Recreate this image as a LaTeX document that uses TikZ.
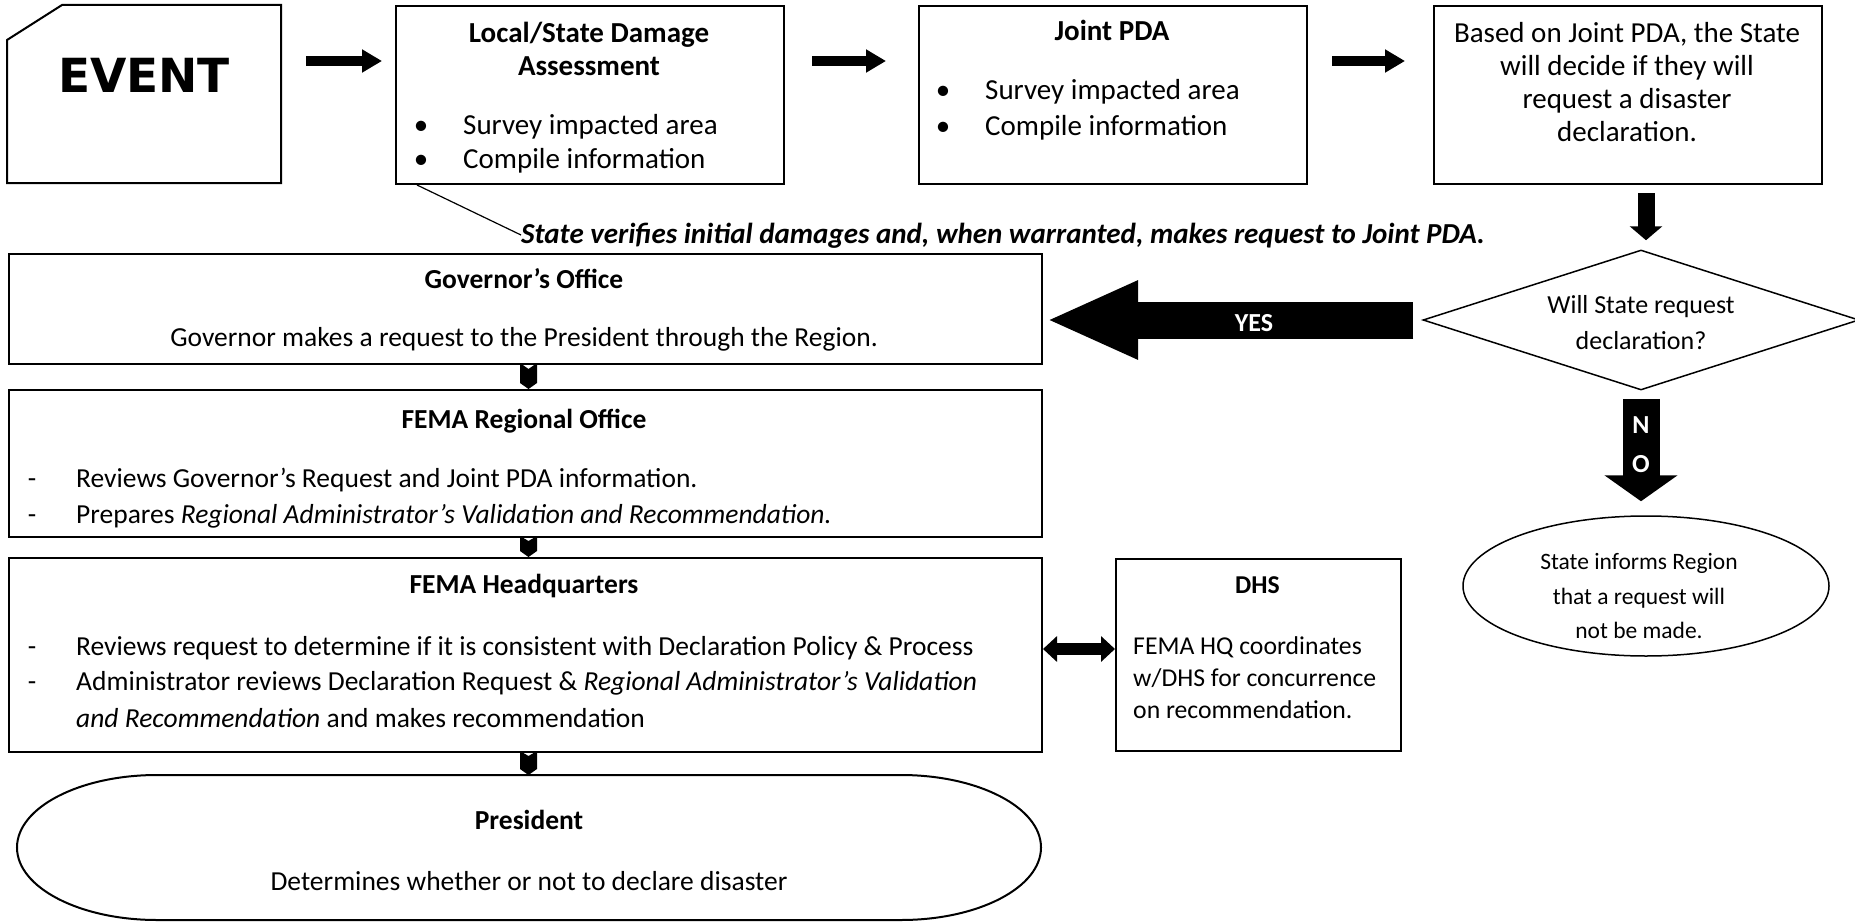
\documentclass[tikz,border=0pt]{standalone}
\usepackage{fontspec}
\setmainfont{Carlito}
\newfontfamily\evfont{DejaVu Sans}
\usetikzlibrary{arrows.meta,calc,shapes.geometric}
\begin{document}
\begin{tikzpicture}[x=1pt,y=-1pt,
  box/.style={draw, line width=2pt, inner sep=0, anchor=north west},
  ghost/.style={inner sep=0, anchor=north west},
  t/.style={inner sep=0, anchor=base, font=\fontsize{27.5}{33}\selectfont},
  tb/.style={t, font=\fontsize{27.5}{33}\selectfont\bfseries},
  tl/.style={t, anchor=base west},
  tt/.style={inner sep=0, anchor=base, font=\fontsize{29}{35}\selectfont},
  ttb/.style={tt, font=\fontsize{29}{35}\selectfont\bfseries},
  ttl/.style={tt, anchor=base west},
  td/.style={inner sep=0, anchor=base west, font=\fontsize{25.7}{31}\selectfont},
  tdb/.style={td, anchor=base, font=\fontsize{25.7}{31}\selectfont\bfseries},
  ts/.style={inner sep=0, anchor=base, font=\fontsize{26}{32}\selectfont},
  te/.style={inner sep=0, anchor=base, font=\fontsize{23.5}{28}\selectfont},
  wt/.style={inner sep=0, anchor=base, text=white, font=\fontsize{26}{32}\selectfont\bfseries},
  blk/.style={line width=10pt, -{Triangle[width=22pt,length=20pt]}},
  chev/.style={fill=black}
]
\useasboundingbox (0,0) rectangle (1855,923);

% ---------- top row ----------
\node[ghost, minimum width=274pt, minimum height=178pt] (ev) at (7,5) {};
\draw[line width=2pt] (7,40) -- (62,5) -- (281,5) -- (281,183) -- (7,183) -- cycle;
\node[inner sep=0, anchor=base, font={\evfont\bfseries\fontsize{47}{52}\selectfont}] (evt) at (144,93) {EVENT};

\node[box, minimum width=388pt, minimum height=178pt] (loc) at (395,5) {};
\node[ttb] (loct1) at (589,42.5) {Local/State Damage};
\node[ttb] (loct2) at (589,75.5) {Assessment};
\node[tt] (locb1) at (421,135) {•};
\node[ttl] (locs1) at (463,135) {Survey impacted area};
\node[tt] (locb2) at (421,168.5) {•};
\node[ttl] (locs2) at (463,168.5) {Compile information};

\node[box, minimum width=388pt, minimum height=178pt] (jnt) at (918,5) {};
\node[ttb] (jntt) at (1112,40.5) {Joint PDA};
\node[tt] (jntb1) at (943,100) {•};
\node[ttl] (jnts1) at (985,100) {Survey impacted area};
\node[tt] (jntb2) at (943,135.5) {•};
\node[ttl] (jnts2) at (985,135.5) {Compile information};

\node[box, minimum width=388pt, minimum height=178pt] (bas) at (1433,5) {};
\node[tt] (bas1) at (1627,42.5) {Based on Joint PDA, the State};
\node[tt] (bas2) at (1627,75.5) {will decide if they will};
\node[tt] (bas3) at (1627,108.5) {request a disaster};
\node[tt] (bas4) at (1627,141.5) {declaration.};

\draw[blk, shorten <=25pt, shorten >=13pt] ($(ev.north east)+(0,56)$) -- ($(loc.north west)+(0,56)$);
\draw[blk, shorten <=27pt, shorten >=32pt] ($(loc.north east)+(0,56)$) -- ($(jnt.north west)+(0,56)$);
\draw[blk, shorten <=24pt, shorten >=28pt] ($(jnt.north east)+(0,56)$) -- ($(bas.north west)+(0,56)$);

% callout
\node[ttl, font=\fontsize{29}{35}\selectfont\bfseries\itshape] (ct) at (521,243) {State verifies initial damages and, when warranted, makes request to Joint PDA.};
\draw[line width=1.2pt] ($(loc.south west)+(22,0)$) -- ($(ct.base west)+(0,-8)$);

% ---------- decision ----------
\node[draw, diamond, line width=1.5pt, inner sep=0, minimum width=436pt, minimum height=140pt] (dia) at (1641,320) {};
\node[ts] (dia1) at (1641,313) {Will State request};
\node[ts] (dia2) at (1641,349) {declaration?};
\draw[line width=17pt, -{Triangle[width=32pt,length=14pt]}, shorten <=8pt, shorten >=9pt] ($(bas.south -| dia.north)+(5,0)$) -- ($(dia.north)+(5,0)$);

\node[draw, ellipse, line width=1.5pt, inner sep=0, minimum width=366pt, minimum height=140pt] (ell) at (1646,586) {};
\node[te] (ell1) at (1639,569) {State informs Region};
\node[te] (ell2) at (1639,604) {that a request will};
\node[te] (ell3) at (1639,638) {not be made.};

\draw[line width=37pt, -{Triangle[width=72pt,length=26pt]}, shorten <=8pt, shorten >=14pt] (dia.south) -- (dia.south |- ell.north);
\node[wt] (no1) at (1641,433) {N};
\node[wt] (no2) at (1641,472) {O};

% ---------- left column ----------
\node[box, minimum width=1033pt, minimum height=110pt] (gov) at (8,253) {};
\node[tb] (govt) at (524,288) {Governor’s Office};
\node[t] (govs) at (524,346) {Governor makes a request to the President through the Region.};

\draw[line width=37pt, -{Triangle[width=72pt,length=92pt]}, shorten <=9pt, shorten >=3pt] (dia.west) -- (dia.west -| gov.east);
\node[wt] (yes) at (1254,331) {YES};

\node[box, minimum width=1033pt, minimum height=147pt] (reg) at (8,389) {};
\node[tb] (regt) at (524,428) {FEMA Regional Office};
\node[t] (regd1) at (32,487) {-};
\node[tl] (regs1) at (76,487) {Reviews Governor’s Request and Joint PDA information.};
\node[t] (regd2) at (32,523) {-};
\node[tl] (regs2) at (76,523) {Prepares \textit{Regional Administrator’s Validation and Recommendation.}};

\node[box, minimum width=1033pt, minimum height=194pt] (hq) at (8,557) {};
\node[tb] (hqt) at (524,593) {FEMA Headquarters};
\node[t] (hqd1) at (32,655) {-};
\node[tl] (hqs1) at (76,655) {Reviews request to determine if it is consistent with Declaration Policy \& Process};
\node[t] (hqd2) at (32,690) {-};
\node[tl] (hqs2) at (76,690) {Administrator reviews Declaration Request \& \textit{Regional Administrator’s Validation}};
\node[tl] (hqs3) at (76,727) {\textit{and Recommendation} and makes recommendation};

\node[box, minimum width=285pt, minimum height=192pt] (dhs) at (1115,558) {};
\node[tdb] (dhst) at (1257.5,593) {DHS};
\node[td] (dhs1) at (1133,654) {FEMA HQ coordinates};
\node[td] (dhs2) at (1133,686) {w/DHS for concurrence};
\node[td] (dhs3) at (1133,718) {on recommendation.};

\coordinate (dy) at (0,649);
\draw[line width=12pt, {Triangle[width=25pt,length=14pt]}-{Triangle[width=25pt,length=14pt]}] (hq.east |- dy) -- (dhs.west |- dy);

% president
\node[ghost, minimum width=1024pt, minimum height=145pt] (pres) at (17,775) {};
\draw[line width=2pt] (157,775) -- (901,775) arc[start angle=90, end angle=-90, x radius=140pt, y radius=72.5pt] -- (157,920) arc[start angle=270, end angle=90, x radius=140pt, y radius=72.5pt] -- cycle;
\node[tb] (prest) at (529,829) {President};
\node[t] (press) at (529,890) {Determines whether or not to declare disaster};

% small chevron connectors
\fill[chev] (520,363) -- (528.5,369) -- (537,363) -- (537,383) -- (528.5,389) -- (520,383) -- cycle;
\fill[chev] (520,536) -- (528.5,541) -- (537,536) -- (537,551) -- (528.5,557) -- (520,551) -- cycle;
\fill[chev] (520,751) -- (528.5,756) -- (537,751) -- (537,769) -- (528.5,775) -- (520,769) -- cycle;
\end{tikzpicture}
\end{document}
